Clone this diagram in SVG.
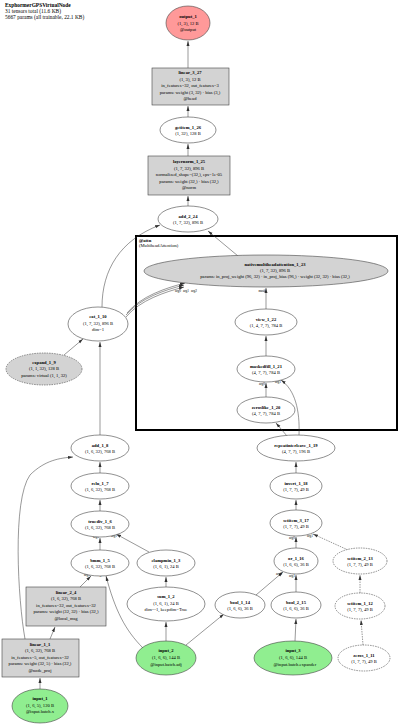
<svg xmlns="http://www.w3.org/2000/svg" width="400" height="727" viewBox="0 0 400 727">
<style>
text{font-family:"Liberation Serif","DejaVu Serif",serif;font-size:4.6px;fill:#000;text-anchor:middle}
.t{font-weight:bold}
.h{text-anchor:start;font-size:5.4px}
.n{fill:#fff;stroke:#444;stroke-width:0.6}
.g{fill:#d3d3d3;stroke:#444;stroke-width:0.6}
.in{fill:#90ee90;stroke:#444;stroke-width:0.6}
.out{fill:#ff9999;stroke:#444;stroke-width:0.6}
.d{stroke-dasharray:1.5,1}
.e{fill:none;stroke:#333;stroke-width:0.5;marker-end:url(#a)}
.lb{font-size:3.4px}
</style>
<defs><marker id="a" markerWidth="6" markerHeight="6" refX="5" refY="3" orient="auto" markerUnits="userSpaceOnUse"><path d="M0,1.5L5,3L0,4.5z" fill="#333"/></marker></defs>
<rect width="400" height="727" fill="#fff"/>
<g id="header">
<text class="h t" x="5" y="7">ExphormerGPSVirtualNode</text>
<text class="h" x="5" y="13">31 tensors total (11.6 KB)</text>
<text class="h" x="5" y="19">5667 params (all trainable, 22.1 KB)</text>
</g>
<g id="attn_cluster">
<rect x="136" y="236" width="261" height="194" fill="none" stroke="#000" stroke-width="2"/>
<text class="t" x="139" y="242" style="text-anchor:start">@attn</text>
<text x="139" y="247" style="text-anchor:start">(MultiheadAttention)</text>
</g>
<g id="connectors">
<path class="e" d="M188,68V41"/>
<path class="e" d="M188,117V106"/>
<path class="e" d="M188,156V144"/>
<path class="e" d="M188,206V196"/>
<path class="e" d="M102,307C102,270 120,240 160,225"/>
<path class="e" d="M238,256L208,231"/>
<path class="e" d="M126,317C140,300 165,292 184,287"/>
<path class="e" d="M126,315C140,298 165,290 184,285"/>
<path class="e" d="M127,313C141,296 166,288 185,283"/>
<text class="lb" x="178" y="292">arg0</text><text class="lb" x="186" y="292">arg1</text><text class="lb" x="194" y="292">arg2</text>
<path class="e" d="M266,309V288"/>
<text class="lb" x="262" y="292">mask</text>
<path class="e" d="M266,356V336"/>
<path class="e" d="M266,397V383"/>
<text class="lb" x="262" y="385">arg0</text>
<path class="e" d="M299,435C300,410 295,390 281,380"/>
<text class="lb" x="278" y="383">arg1</text>
<path class="e" d="M287,436L276,423"/>
<path class="e" d="M296,473V462"/>
<path class="e" d="M296,510V500"/>
<path class="e" d="M296,548V537"/>
<text class="lb" x="292" y="539">arg0</text>
<path class="e d" d="M348,550L313,534"/>
<text class="lb" x="310" y="537">arg1</text>
<path class="e d" d="M360,593V575"/>
<path class="e d" d="M363,645L361,620"/>
<path class="e" d="M256,595L283,572"/>
<text class="lb" x="279" y="575">arg0</text>
<path class="e" d="M296,592V575"/>
<text class="lb" x="292" y="577">arg1</text>
<path class="e" d="M186,645L224,614"/>
<path class="e" d="M295,641L296,619"/>
<path class="e" d="M166,641V622"/>
<path class="e" d="M166,587V577"/>
<path class="e" d="M149,552L116,534"/>
<text class="lb" x="114" y="537">arg1</text>
<path class="e" d="M100,550V538"/>
<text class="lb" x="96" y="538">arg0</text>
<path class="e" d="M100,511V500"/>
<path class="e" d="M100,473V462"/>
<path class="e" d="M100,435V342"/>
<path class="e" d="M64,355L83,339"/>
<path class="e" d="M80,587L91,576"/>
<text class="lb" x="87" y="576">arg0</text>
<path class="e" d="M143,648C125,630 115,610 106,576"/>
<text class="lb" x="100" y="576">arg1</text>
<path class="e" d="M50,639L55,627"/>
<path class="e" d="M25,639C18,600 12,500 30,475C45,460 60,458 73,457"/>
<path class="e" d="M40,689V678"/>
</g>
<g id="output_1"><ellipse class="out" cx="188" cy="23" rx="22" ry="17"/><text class="t" x="188" y="18">output_1</text><text x="188" y="24.5">(1, 3), 12 B</text><text x="188" y="31">@output</text></g>
<g id="linear_3_27"><rect class="g" x="152" y="68" width="77" height="37"/><text class="t" x="190" y="74">linear_3_27</text><text x="190" y="80.5">(1, 3), 12 B</text><text x="190" y="87">in_features=32, out_features=3</text><text x="190" y="93.5">params: weight (3, 32) · bias (3,)</text><text x="190" y="100">@head</text></g>
<g id="getitem_1_26"><ellipse class="n" cx="188" cy="130" rx="28" ry="13"/><text class="t" x="188" y="129">getitem_1_26</text><text x="188" y="135">(1, 32), 128 B</text></g>
<g id="layernorm_1_25"><rect class="g" x="148" y="156" width="82" height="39"/><text class="t" x="189" y="163">layernorm_1_25</text><text x="189" y="169.5">(1, 7, 32), 896 B</text><text x="189" y="176">normalized_shape=(32,), eps=1e-05</text><text x="189" y="182.5">params: weight (32,) · bias (32,)</text><text x="189" y="189">@norm</text></g>
<g id="add_2_24"><ellipse class="n" cx="188" cy="219" rx="30" ry="13"/><text class="t" x="188" y="218">add_2_24</text><text x="188" y="224">(1, 7, 32), 896 B</text></g>
<g id="nativemultiheadattention_1_23"><ellipse class="g" cx="266" cy="271" rx="122" ry="16"/><text class="t" x="275" y="266">nativemultiheadattention_1_23</text><text x="275" y="272">(1, 7, 32), 896 B</text><text x="275" y="278">params: in_proj_weight (96, 32) · in_proj_bias (96,) · weight (32, 32) · bias (32,)</text></g>
<g id="view_1_22"><ellipse class="n" cx="266" cy="322" rx="31" ry="13"/><text class="t" x="266" y="321">view_1_22</text><text x="266" y="327">(1, 4, 7, 7), 784 B</text></g>
<g id="maskedfill_1_21"><ellipse class="n" cx="266" cy="369" rx="29" ry="13"/><text class="t" x="266" y="368">maskedfill_1_21</text><text x="266" y="374">(4, 7, 7), 784 B</text></g>
<g id="zeroslike_1_20"><ellipse class="n" cx="266" cy="410" rx="29" ry="13"/><text class="t" x="266" y="409">zeroslike_1_20</text><text x="266" y="415">(4, 7, 7), 784 B</text></g>
<g id="repeatinterleave_1_19"><ellipse class="n" cx="296" cy="448" rx="39" ry="13"/><text class="t" x="296" y="447">repeatinterleave_1_19</text><text x="296" y="453">(4, 7, 7), 196 B</text></g>
<g id="invert_1_18"><ellipse class="n" cx="296" cy="486" rx="26" ry="13"/><text class="t" x="296" y="485">invert_1_18</text><text x="296" y="491">(1, 7, 7), 49 B</text></g>
<g id="setitem_3_17"><ellipse class="n" cx="296" cy="523" rx="26" ry="13"/><text class="t" x="296" y="522">setitem_3_17</text><text x="296" y="528">(1, 7, 7), 49 B</text></g>
<g id="or_1_16"><ellipse class="n" cx="296" cy="561" rx="22" ry="13"/><text class="t" x="296" y="560">or_1_16</text><text x="296" y="566">(1, 6, 6), 36 B</text></g>
<g id="setitem_2_13"><ellipse class="n d" cx="360" cy="561" rx="27" ry="13"/><text class="t" x="360" y="560">setitem_2_13</text><text x="360" y="566">(1, 7, 7), 49 B</text></g>
<g id="bool_1_14"><ellipse class="n" cx="240" cy="605" rx="25" ry="13"/><text class="t" x="240" y="604">bool_1_14</text><text x="240" y="610">(1, 6, 6), 36 B</text></g>
<g id="bool_2_15"><ellipse class="n" cx="296" cy="605" rx="25" ry="13"/><text class="t" x="296" y="604">bool_2_15</text><text x="296" y="610">(1, 6, 6), 36 B</text></g>
<g id="setitem_1_12"><ellipse class="n d" cx="360" cy="606" rx="25" ry="13"/><text class="t" x="360" y="605">setitem_1_12</text><text x="360" y="611">(1, 7, 7), 49 B</text></g>
<g id="zeros_1_11"><ellipse class="n d" cx="364" cy="658" rx="26" ry="13"/><text class="t" x="364" y="657">zeros_1_11</text><text x="364" y="663">(1, 7, 7), 49 B</text></g>
<g id="input_2"><ellipse class="in" cx="166" cy="658" rx="30" ry="17"/><text class="t" x="166" y="652">input_2</text><text x="166" y="659">(1, 6, 6), 144 B</text><text x="166" y="665.5">@input.batch.adj</text></g>
<g id="input_3"><ellipse class="in" cx="293" cy="658" rx="39" ry="17"/><text class="t" x="293" y="652">input_3</text><text x="293" y="659">(1, 6, 6), 144 B</text><text x="295" y="665.5">@input.batch.expander</text></g>
<g id="sum_1_2"><ellipse class="n" cx="166" cy="604" rx="39" ry="17"/><text class="t" x="166" y="598">sum_1_2</text><text x="166" y="604.5">(1, 6, 1), 24 B</text><text x="166" y="611">dim=-1, keepdim=True</text></g>
<g id="clampmin_1_3"><ellipse class="n" cx="166" cy="563" rx="29" ry="13"/><text class="t" x="166" y="562">clampmin_1_3</text><text x="166" y="568">(1, 6, 1), 24 B</text></g>
<g id="bmm_1_5"><ellipse class="n" cx="100" cy="563" rx="29" ry="13"/><text class="t" x="100" y="562">bmm_1_5</text><text x="100" y="568">(1, 6, 32), 768 B</text></g>
<g id="truediv_1_6"><ellipse class="n" cx="100" cy="524" rx="29" ry="13"/><text class="t" x="100" y="523">truediv_1_6</text><text x="100" y="529">(1, 6, 32), 768 B</text></g>
<g id="relu_1_7"><ellipse class="n" cx="100" cy="486" rx="29" ry="13"/><text class="t" x="100" y="485">relu_1_7</text><text x="100" y="491">(1, 6, 32), 768 B</text></g>
<g id="add_1_8"><ellipse class="n" cx="100" cy="448" rx="29" ry="13"/><text class="t" x="100" y="447">add_1_8</text><text x="100" y="453">(1, 6, 32), 768 B</text></g>
<g id="cat_1_10"><ellipse class="n" cx="98" cy="324" rx="30" ry="17"/><text class="t" x="98" y="318">cat_1_10</text><text x="98" y="324.5">(1, 7, 32), 896 B</text><text x="98" y="331">dim=1</text></g>
<g id="expand_1_9"><ellipse class="g d" cx="44" cy="369" rx="38" ry="16"/><text class="t" x="44" y="363.5">expand_1_9</text><text x="44" y="370">(1, 1, 32), 128 B</text><text x="44" y="376.5">params: virtual (1, 1, 32)</text></g>
<g id="linear_2_4"><rect class="g" x="26" y="587" width="80" height="39"/><text class="t" x="66" y="593.5">linear_2_4</text><text x="66" y="600">(1, 6, 32), 768 B</text><text x="66" y="606.5">in_features=32, out_features=32</text><text x="66" y="613">params: weight (32, 32) · bias (32,)</text><text x="66" y="619.5">@local_msg</text></g>
<g id="linear_1_1"><rect class="g" x="2" y="639" width="77" height="38"/><text class="t" x="40" y="645.5">linear_1_1</text><text x="40" y="652">(1, 6, 32), 768 B</text><text x="40" y="658.5">in_features=5, out_features=32</text><text x="40" y="665">params: weight (32, 5) · bias (32,)</text><text x="40" y="671.5">@node_proj</text></g>
<g id="input_1"><ellipse class="in" cx="40" cy="706" rx="28" ry="17"/><text class="t" x="40" y="700">input_1</text><text x="40" y="706.5">(1, 6, 5), 120 B</text><text x="40" y="713">@input.batch.x</text></g>
</svg>
